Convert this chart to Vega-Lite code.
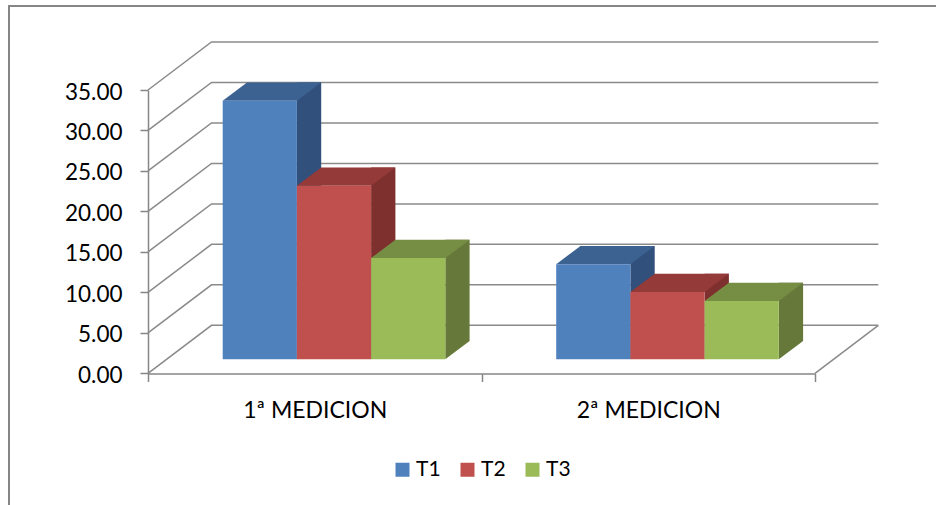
{
  "$schema": "https://vega.github.io/schema/vega-lite/v6.json",
  "width": 927,
  "height": 499,
  "autosize": "none",
  "padding": {"left": 9, "top": 6, "right": 0, "bottom": 0},
  "background": "white",
  "config": {
    "font": "Lato",
    "view": {"stroke": "#868686", "strokeWidth": 2, "strokeDash": [927, 1426, 499]},
    "axis": {"title": null, "grid": false, "labelColor": "#000000", "tickColor": "#868686", "tickWidth": 1.5,
             "domainColor": "#868686", "domainWidth": 1.5, "tickSize": 8}
  },
  "datasets": {
    "medidas": [
      {"medicion": "1ª MEDICION", "serie": "T1", "valor": 31.95},
      {"medicion": "1ª MEDICION", "serie": "T2", "valor": 21.45},
      {"medicion": "1ª MEDICION", "serie": "T3", "valor": 12.5},
      {"medicion": "2ª MEDICION", "serie": "T1", "valor": 11.75},
      {"medicion": "2ª MEDICION", "serie": "T2", "valor": 8.3},
      {"medicion": "2ª MEDICION", "serie": "T3", "valor": 7.2}
    ],
    "rejilla": [
      {"v": 0}, {"v": 5}, {"v": 10}, {"v": 15}, {"v": 20}, {"v": 25}, {"v": 30}, {"v": 35}
    ]
  },
  "layer": [
    {
      "description": "back wall grid: diagonal from the front axis, then across the back wall",
      "data": {"name": "rejilla"},
      "mark": {"type": "point", "shape": "M-166.75,0L-103.25,-48L563.55,-48", "size": 4, "filled": false, "stroke": "#8a8a8a", "strokeWidth": 1.5, "opacity": 1},
      "encoding": {
        "x": {"datum": "1ª MEDICION", "type": "nominal", "title": null,
              "scale": {"type": "band", "domain": ["1ª MEDICION", "2ª MEDICION"], "range": [139, 806], "paddingInner": 0, "paddingOuter": 0}},
        "y": {"field": "v", "type": "quantitative", "title": null,
              "scale": {"domain": [0, 35], "range": [367.3, 84], "nice": false, "zero": true}}
      }
    },
    {
      "description": "right edge of the floor",
      "data": {"name": "rejilla"},
      "transform": [{"filter": "datum.v === 0"}],
      "mark": {"type": "point", "shape": "M500.25,0L563.55,-48", "size": 4, "filled": false, "stroke": "#8a8a8a", "strokeWidth": 1.5, "opacity": 1},
      "encoding": {
        "x": {"datum": "1ª MEDICION", "type": "nominal", "title": null},
        "y": {"field": "v", "type": "quantitative", "title": null}
      }
    },
    {
      "description": "right side faces of the bars",
      "data": {"name": "medidas"},
      "mark": {"type": "bar", "width": 24.3, "yOffset": -32.3, "y2Offset": -32.3},
      "encoding": {
        "x": {"field": "medicion", "type": "nominal", "title": null},
        "xOffset": {"field": "serie", "type": "nominal",
                    "scale": {"type": "band", "domain": ["T1", "T2", "T3"], "range": [123.95, 346.55], "paddingInner": 0, "paddingOuter": 0}},
        "y": {"field": "valor", "type": "quantitative", "stack": null, "title": null},
        "y2": {"datum": 0},
        "fill": {"field": "serie", "type": "nominal", "legend": null,
                 "scale": {"domain": ["T1", "T2", "T3"], "range": ["#31507b", "#7e302e", "#66793a"]}}
      }
    },
    {
      "description": "lower corner of the side faces",
      "data": {"name": "medidas"},
      "mark": {"type": "point", "shape": "M37.1,0L37.1,-18.3L61.4,-18.3Z", "size": 4, "filled": true, "opacity": 1, "strokeWidth": 0, "yOffset": -14},
      "encoding": {
        "x": {"field": "medicion", "type": "nominal", "title": null},
        "xOffset": {"field": "serie", "type": "nominal",
                    "scale": {"type": "band", "domain": ["T1", "T2", "T3"], "range": [74.7, 297.3], "paddingInner": 0, "paddingOuter": 0}},
        "y": {"datum": 0, "type": "quantitative", "title": null},
        "fill": {"field": "serie", "type": "nominal", "legend": null,
                 "scale": {"domain": ["T1", "T2", "T3"], "range": ["#31507b", "#7e302e", "#66793a"]}}
      }
    },
    {
      "description": "top faces of the bars",
      "data": {"name": "medidas"},
      "mark": {"type": "point", "shape": "M-37.1,0L37.1,0L61.4,-18.3L-12.8,-18.3Z", "size": 4, "filled": true, "opacity": 1, "strokeWidth": 0, "yOffset": -14},
      "encoding": {
        "x": {"field": "medicion", "type": "nominal", "title": null},
        "xOffset": {"field": "serie", "type": "nominal",
                    "scale": {"type": "band", "domain": ["T1", "T2", "T3"], "range": [74.7, 297.3], "paddingInner": 0, "paddingOuter": 0}},
        "y": {"field": "valor", "type": "quantitative", "title": null},
        "fill": {"field": "serie", "type": "nominal", "legend": null,
                 "scale": {"domain": ["T1", "T2", "T3"], "range": ["#3c6291", "#943a38", "#768e44"]}}
      }
    },
    {
      "description": "front faces of the bars",
      "data": {"name": "medidas"},
      "mark": {"type": "bar", "yOffset": -14, "y2Offset": -14},
      "encoding": {
        "x": {"field": "medicion", "type": "nominal", "title": null,
              "axis": {"labelAngle": 0, "labelAlign": "center", "labelBaseline": "top", "labelFontSize": 23,
                       "labelPadding": 18, "tickBand": "extent", "offset": -131.5}},
        "xOffset": {"field": "serie", "type": "nominal",
                    "scale": {"type": "band", "domain": ["T1", "T2", "T3"], "range": [74.7, 297.3], "paddingInner": 0, "paddingOuter": 0}},
        "y": {"field": "valor", "type": "quantitative", "stack": null, "title": null,
              "axis": {"values": [0, 5, 10, 15, 20, 25, 30, 35], "format": ".2f",
                       "labelFontSize": 22.5, "labelPadding": 18, "labelOffset": 2, "offset": -139}},
        "y2": {"datum": 0},
        "color": {"field": "serie", "type": "nominal",
                  "scale": {"domain": ["T1", "T2", "T3"], "range": ["#4f81bd", "#c0504d", "#9bbb59"]},
                  "legend": {"orient": "none", "legendX": 383, "legendY": 453, "direction": "horizontal", "title": null,
                             "symbolType": "square", "symbolSize": 196, "symbolStrokeWidth": 0,
                             "labelFontSize": 21, "labelColor": "#000000", "labelOffset": 3, "columnPadding": 16, "padding": 0}}
      }
    }
  ],
  "resolve": {"scale": {"xOffset": "independent", "fill": "independent"}}
}
